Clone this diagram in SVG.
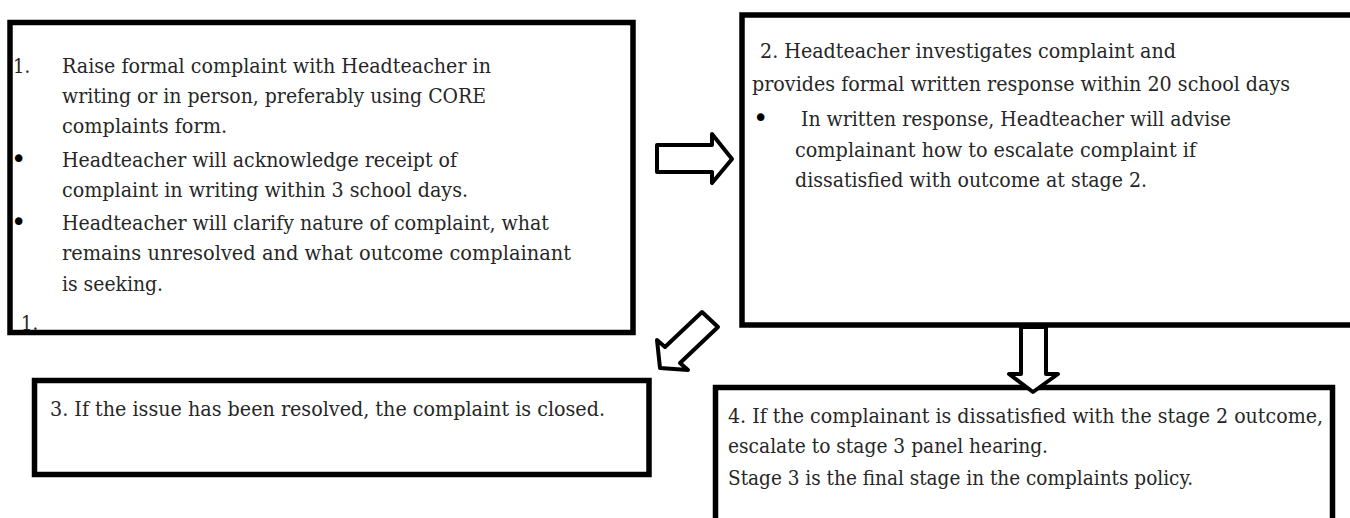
<svg xmlns="http://www.w3.org/2000/svg" width="1350" height="518" viewBox="0 0 1350 518">
<style>
.box{fill:#fff;stroke:#000;stroke-width:5.5}
.arr{fill:#fff;stroke:#000;stroke-width:4;stroke-linejoin:round}
.t{font-family:"DejaVu Serif Condensed","DejaVu Serif","Liberation Serif",serif;font-stretch:condensed;font-size:20px;fill:#262626}
.b{font-family:"DejaVu Sans",sans-serif;font-size:26px;fill:#000}
</style>
<rect width="1350" height="518" fill="#fff"/>
<g id="node1">
<rect class="box" x="10" y="22.5" width="623" height="310"/>
<text class="t" x="13" y="73">1.</text>
<text class="t" x="62" y="73" textLength="429" lengthAdjust="spacingAndGlyphs">Raise formal complaint with Headteacher in</text>
<text class="t" x="62" y="103" textLength="424" lengthAdjust="spacingAndGlyphs">writing or in person, preferably using CORE</text>
<text class="t" x="62" y="133" textLength="165" lengthAdjust="spacingAndGlyphs">complaints form.</text>
<text class="b" x="11" y="168">•</text>
<text class="t" x="62" y="167" textLength="395" lengthAdjust="spacingAndGlyphs">Headteacher will acknowledge receipt of</text>
<text class="t" x="62" y="197" textLength="406" lengthAdjust="spacingAndGlyphs">complaint in writing within 3 school days.</text>
<text class="b" x="11" y="231">•</text>
<text class="t" x="62" y="230" textLength="487" lengthAdjust="spacingAndGlyphs">Headteacher will clarify nature of complaint, what</text>
<text class="t" x="62" y="260" textLength="509" lengthAdjust="spacingAndGlyphs">remains unresolved and what outcome complainant</text>
<text class="t" x="62" y="291" textLength="101" lengthAdjust="spacingAndGlyphs">is seeking.</text>
<text class="t" x="21" y="330">1.</text>
</g>
<g id="node2">
<rect class="box" x="742" y="15" width="640" height="310"/>
<text class="t" x="760" y="58" textLength="416" lengthAdjust="spacingAndGlyphs">2. Headteacher investigates complaint and</text>
<text class="t" x="752" y="91" textLength="538" lengthAdjust="spacingAndGlyphs">provides formal written response within 20 school days</text>
<text class="b" x="753" y="127">•</text>
<text class="t" x="801" y="126" textLength="430" lengthAdjust="spacingAndGlyphs">In written response, Headteacher will advise</text>
<text class="t" x="795" y="157" textLength="401" lengthAdjust="spacingAndGlyphs">complainant how to escalate complaint if</text>
<text class="t" x="795" y="187" textLength="352" lengthAdjust="spacingAndGlyphs">dissatisfied with outcome at stage 2.</text>
</g>
<g id="node3">
<rect class="box" x="34.5" y="380.5" width="614.5" height="94"/>
<text class="t" x="50" y="416" textLength="555" lengthAdjust="spacingAndGlyphs">3. If the issue has been resolved, the complaint is closed.</text>
</g>
<g id="node4">
<rect class="box" x="715.5" y="387.5" width="617" height="150"/>
<text class="t" x="728" y="423" textLength="595" lengthAdjust="spacingAndGlyphs">4. If the complainant is dissatisfied with the stage 2 outcome,</text>
<text class="t" x="728" y="453" textLength="320" lengthAdjust="spacingAndGlyphs">escalate to stage 3 panel hearing.</text>
<text class="t" x="728" y="485" textLength="465" lengthAdjust="spacingAndGlyphs">Stage 3 is the final stage in the complaints policy.</text>
</g>
<g id="connectors">
<polygon class="arr" points="657,145 712,145 712,134 732,159 712,183 712,172 657,172"/>
<polygon class="arr" points="702,312 718,327 680,363 688,370 660,368 657,340 665,347"/>
<polygon class="arr" stroke-width="3.5" points="1021,327 1046,327 1046,374 1058,374 1033,392 1009,374 1021,374"/>
</g>
</svg>
